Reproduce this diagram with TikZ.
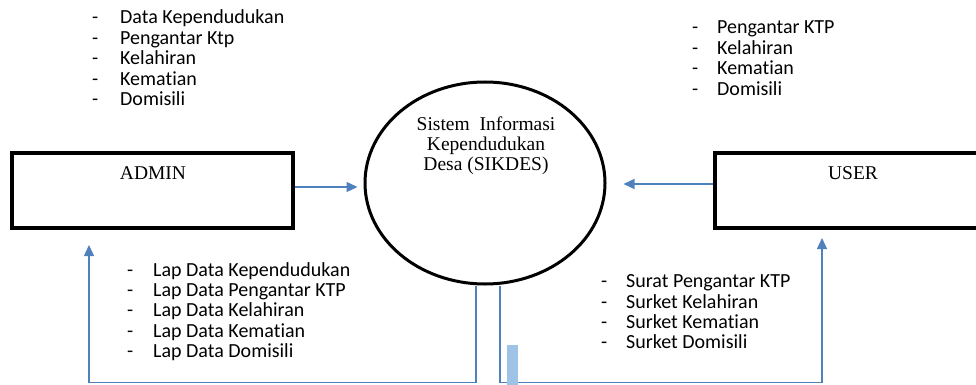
\documentclass[tikz,border=0pt]{standalone}
\usepackage{fontspec}
\setmainfont{Liberation Serif}
\newfontfamily\calibri[Ligatures=NoCommon]{Carlito}
\usetikzlibrary{arrows.meta,shapes.geometric}
\definecolor{flowblue}{HTML}{4F81BD}
\definecolor{barblue}{HTML}{9DC3E6}
\newcommand{\itm}[2][25pt]{\makebox[#1][l]{-}#2}
\begin{document}
\begin{tikzpicture}[x=1pt,y=-1pt,
    box/.style={draw,line width=3.5pt,inner sep=0,minimum height=75pt},
    lbl/.style={anchor=base,inner sep=0,font=\fontsize{19.5}{20}\selectfont},
    lst/.style={anchor=base west,inner sep=0,font=\calibri\fontsize{20}{20.4}\selectfont},
    flow/.style={draw=flowblue,line width=1.3pt,-{Triangle[length=11pt,width=10pt]}}]
    \useasboundingbox (0,0) rectangle (976,385);
    % entities and process
    \node[box,minimum width=281pt] (admin) at (152.5,190.5) {};
    \node[box,minimum width=275pt] (user) at (852.5,190.5) {};
    \node[draw,ellipse,line width=3pt,minimum width=240pt,minimum height=202pt,inner sep=0] (sikdes) at (485,183) {};
    \node[lbl] (admintxt) at (153,179.3) {ADMIN};
    \node[lbl] (usertxt) at (853,179.3) {USER};
    \node[lbl] (sikdestxt) at (486,130.7) {\begin{tabular}[t]{@{}c@{}}Sistem\ \ Informasi\\ Kependudukan\\ Desa (SIKDES)\end{tabular}};
    % data flows
    \coordinate (lapend) at (89,245);
    \coordinate (surend) at (822,238);
    \draw[flow,shorten >=6pt] ([yshift=3.5pt]admin.east) -- ([yshift=3.5pt]admin.east -| sikdes.west);
    \draw[flow,shorten >=17pt] ([yshift=6.5pt]user.west) -- ([yshift=6.5pt]user.west -| sikdes.east);
    \draw[flow] ([xshift=-9pt]sikdes.south) -- ++(0,97) -| (lapend);
    \draw[flow] ([xshift=15pt]sikdes.south) -- ++(0,97) -| (surend);
    \fill[barblue] (507,345) rectangle (518,385);
    % flow labels
    \node[lst] (inadmin) at (92,24) {\begin{tabular}[t]{@{}l@{}}\itm[28pt]{Data Kependudukan}\\ \itm[28pt]{Pengantar Ktp}\\ \itm[28pt]{Kelahiran}\\ \itm[28pt]{Kematian}\\ \itm[28pt]{Domisili}\end{tabular}};
    \node[lst] (inuser) at (692,34) {\begin{tabular}[t]{@{}l@{}}\itm{Pengantar KTP}\\ \itm{Kelahiran}\\ \itm{Kematian}\\ \itm{Domisili}\end{tabular}};
    \node[lst] (outadmin) at (127,276) {\begin{tabular}[t]{@{}l@{}}\itm[26pt]{Lap Data Kependudukan}\\ \itm[26pt]{Lap Data Pengantar KTP}\\ \itm[26pt]{Lap Data Kelahiran}\\ \itm[26pt]{Lap Data Kematian}\\ \itm[26pt]{Lap Data Domisili}\end{tabular}};
    \node[lst] (outuser) at (601,287.7) {\begin{tabular}[t]{@{}l@{}}\itm{Surat Pengantar KTP}\\ \itm{Surket Kelahiran}\\ \itm{Surket Kematian}\\ \itm{Surket Domisili}\end{tabular}};
\end{tikzpicture}
\end{document}
